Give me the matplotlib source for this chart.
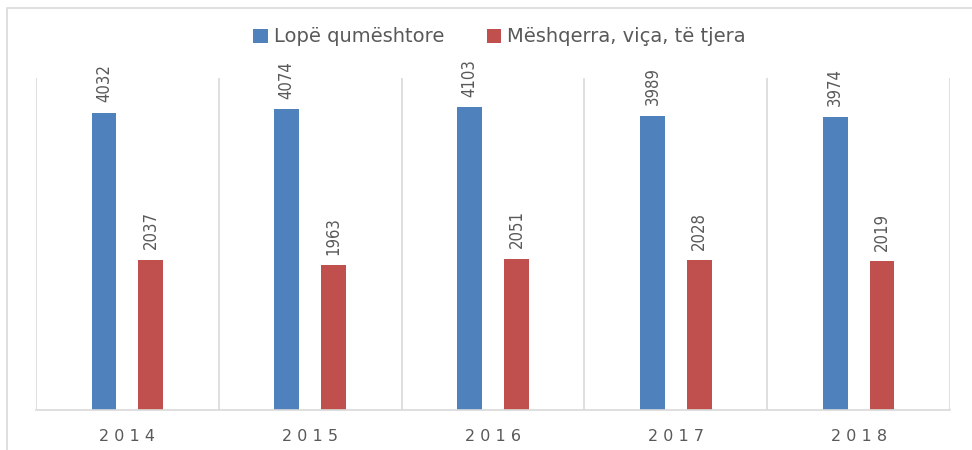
import matplotlib.pyplot as plt
import numpy as np
from matplotlib.patches import Rectangle
from matplotlib import font_manager

years = ['2014', '2015', '2016', '2017', '2018']
lope = [4032, 4074, 4103, 3989, 3974]
meshqerra = [2037, 1963, 2051, 2028, 2019]
series_names = ['Lopë qumështore', 'Mëshqerra, viça, të tjera']
colors = ['#4F81BD', '#C0504D']

# narrow font for the value labels if one is available
names = {f.name for f in font_manager.fontManager.ttflist}
narrow = 'Liberation Sans Narrow' if 'Liberation Sans Narrow' in names else 'DejaVu Sans'
plt.rcParams['font.family'] = ['DejaVu Sans']

fig = plt.figure(figsize=(9.72, 4.5), dpi=100)
# outer chart border (only top and left visible in the reference)
fig.patches.append(Rectangle((7 / 972, -0.1), 1.2, 1 - 8 / 450 + 0.1,
                             transform=fig.transFigure, fill=False,
                             edgecolor='#D9D9D9', linewidth=1.2))

ax = fig.add_axes([36 / 972, 40 / 450, 914 / 972, 332 / 450])
x = np.arange(len(years))
w = 0.135
off = 0.128
b1 = ax.bar(x - off, lope, w, color=colors[0], label=series_names[0])
b2 = ax.bar(x + off, meshqerra, w, color=colors[1], label=series_names[1])

for bars in (b1, b2):
    for rect in bars:
        ax.annotate(str(int(rect.get_height())),
                    (rect.get_x() + rect.get_width() / 2, rect.get_height()),
                    xytext=(0, 7.5), textcoords='offset points',
                    rotation=90, ha='center', va='bottom',
                    fontsize=12, color='#595959', family=narrow,
                    fontstretch='condensed')

ax.set_xlim(-0.5, len(years) - 0.5)
ax.set_ylim(0, 4500)
for sep in np.arange(len(years) + 1) - 0.5:
    ax.axvline(sep, color='#D9D9D9', linewidth=1.2, zorder=0)

for s in ['top', 'right', 'left']:
    ax.spines[s].set_visible(False)
ax.spines['bottom'].set_color('#D9D9D9')
ax.spines['bottom'].set_linewidth(1.2)
ax.set_yticks([])
ax.set_xticks(x)
ax.set_xticklabels([' '.join(y) for y in years], fontsize=11.5, color='#595959')
ax.tick_params(axis='x', length=0, pad=14)

leg = fig.legend(loc='center', bbox_to_anchor=(0.514, 1 - 37 / 450),
                 ncol=2, frameon=False, handlelength=0.75, handleheight=0.75,
                 columnspacing=2.2, handletextpad=0.3,
                 prop={'size': 14})
for t in leg.get_texts():
    t.set_color('#595959')

fig.savefig('out.png', dpi=100)
